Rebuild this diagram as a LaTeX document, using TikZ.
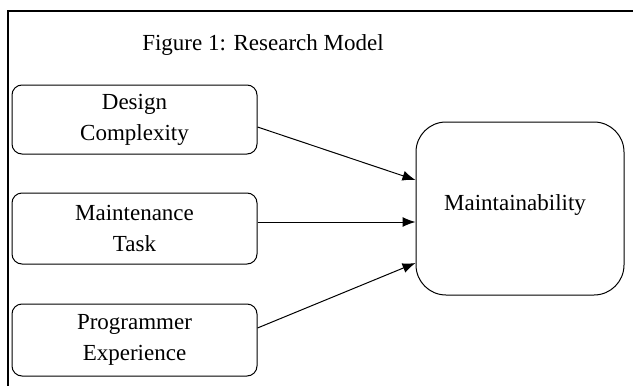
\documentclass[tikz,border=0pt]{standalone}
\usepackage{fontspec}
\setmainfont{Liberation Serif}
\usetikzlibrary{arrows.meta}
\begin{document}
\begin{tikzpicture}[x=1pt,y=-1pt,
  every node/.style={font=\fontsize{23}{31}\selectfont},
  factor/.style={draw=black, line width=1pt, rounded corners=10pt, minimum width=245pt, align=center, inner sep=0pt},
  outcome/.style={draw=black, line width=1pt, rounded corners=30pt, minimum width=208pt, minimum height=173pt, inner sep=0pt},
  link/.style={line width=1pt, -{Latex[length=13pt,width=10pt]}},
  frame/.style={line width=2pt}]
\useasboundingbox[fill=white] (0,0) rectangle (633,386);
\draw[frame] (8,390) -- (8,11) -- (640,11);
\node (title) at (263,45) {Figure 1: Research Model};
\node[factor, minimum height=69pt] (dc) at (134.5,119.5) {Design\\Complexity};
\node[factor, minimum height=71pt] (mt) at (134.5,228.5) {Maintenance\\Task};
\node[factor, minimum height=72pt] (pe) at (134.5,340) {Programmer\\Experience};
\node[outcome] (m) at (520,208.5) {};
\node (mlabel) at (515,205) {Maintainability};
\draw[link] ([yshift=-7.5pt]dc.east) -- ([yshift=28.5pt]m.west);
\draw[link] ([yshift=6.5pt]mt.east) -- ([yshift=-13.5pt]m.west);
\draw[link] ([yshift=12pt]pe.east) -- ([yshift=-54.5pt]m.west);
\end{tikzpicture}
\end{document}
